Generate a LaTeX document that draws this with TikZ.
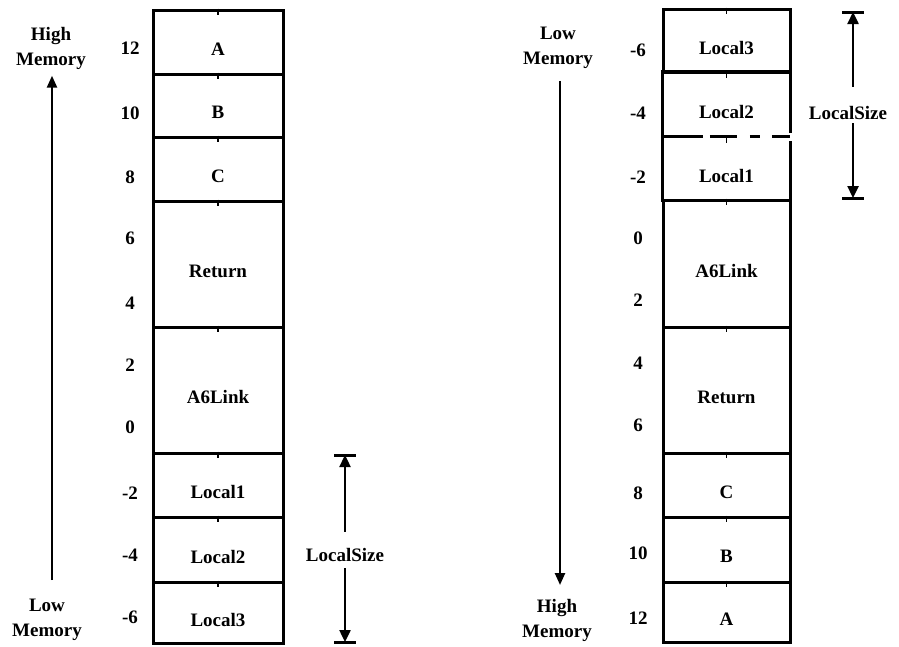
\documentclass[tikz,border=0pt]{standalone}
\usepackage{fontspec}
\setmainfont{Liberation Serif}
\usetikzlibrary{arrows.meta}
\begin{document}
\begin{tikzpicture}[x=1pt,y=-1pt,
  font=\fontsize{19}{25}\selectfont\bfseries,
  cell/.style={draw, line width=3pt, inner sep=0pt},
  lcell/.style={cell, minimum width=130pt},
  rcell/.style={cell, minimum width=127pt},
  ocell/.style={inner sep=0pt, minimum width=127pt},
  wall/.style={line width=3pt},
  lbl/.style={yshift=-7pt},
  tick/.style={line width=1.8pt},
  memtxt/.style={align=center, inner sep=0pt, anchor=north},
  marr/.style={line width=2.4pt, -{Triangle[width=10pt,length=12pt]}},
  dim/.style={line width=2.4pt, -{Triangle[width=11pt,length=12pt]}},
  bar/.style={line width=3pt}]
\useasboundingbox (0,0) rectangle (899,646);

% ---------- left stack ----------
\node[lcell, minimum height=64pt, label={[lbl]center:A}] (lA) at (218,42) {};
\node[lcell, minimum height=63pt, label={[lbl]center:B}] (lB) at (218,105.5) {};
\node[lcell, minimum height=64pt, label={[lbl]center:C}] (lC) at (218,169) {};
\node[lcell, minimum height=126pt, label={[lbl]center:Return}] (lR) at (218,264) {};
\node[lcell, minimum height=126pt, label={[lbl]center:A6Link}] (lL) at (218,390) {};
\node[lcell, minimum height=64pt, label={[lbl]center:Local1}] (l1) at (218,485) {};
\node[lcell, minimum height=65pt, label={[lbl]center:Local2}] (l2) at (218,549.5) {};
\node[lcell, minimum height=61pt, label={[lbl]center:Local3}] (l3) at (218,612.5) {};
\foreach \n in {lA,lB,lC,lR,lL,l1,l2,l3} \draw[tick] (\n.north) -- ++(0,6);

\foreach \v/\y in {12/48,10/113,8/177,6/238,4/303,2/365,0/427,-2/493,-4/555,-6/617}
  \node (ln\y) at (130,\y) {\v};

% left memory arrow
\node[memtxt] (hmL) at (51,27) {High\\Memory};
\node[memtxt] (lmL) at (47,599) {Low\\Memory};
\coordinate (lmb) at (52,580);
\draw[marr] (lmb) -- ([yshift=-6pt]hmL.south -| lmb);

% left LocalSize
\coordinate (lt) at (345,455);
\coordinate (lb) at (345,642);
\node (lsL) at (345,555) {LocalSize};
\draw[dim, shorten <=13pt] (lsL.north) -- (lt);
\draw[dim, shorten <=3pt] (lsL.south) -- (lb);
\draw[bar] ([xshift=-11pt]lt) -- ([xshift=11pt]lt);
\draw[bar] ([xshift=-11pt]lb) -- ([xshift=11pt]lb);

% ---------- right stack ----------
\node[rcell, minimum height=63pt, label={[lbl]center:Local3}] (r3) at (726.5,40.5) {};
\node[ocell, minimum height=65pt, label={[lbl]center:Local2}] (r2) at (726.5,104.5) {};
\node[ocell, minimum height=63pt, label={[lbl]center:Local1}] (r1) at (726.5,168.5) {};
\node[rcell, minimum height=127pt, label={[lbl]center:A6Link}] (rL) at (726.5,263.5) {};
\node[rcell, minimum height=126pt, label={[lbl]center:Return}] (rR) at (726.5,390) {};
\node[rcell, minimum height=64pt, label={[lbl]center:C}] (rC) at (726.5,485) {};
\node[rcell, minimum height=65pt, label={[lbl]center:B}] (rB) at (726.5,549.5) {};
\node[rcell, minimum height=60pt, label={[lbl]center:A}] (rA) at (726.5,612) {};
\draw[wall] (r2.south west) -- (r2.north west) -- (r2.north east) -- ([yshift=4pt]r2.south east);
\draw[wall] (r1.north west) -- (r1.south west) -- (r1.south east) -- ([yshift=-4pt]r1.north east);
\draw[wall, dash pattern=on 40pt off 7pt on 27pt off 13pt on 10pt off 12pt on 18pt]
  (r1.north west) -- (r1.north east);
\foreach \n in {r3,r2,r1,rL,rR,rC,rB,rA} \draw[tick] (\n.north) -- ++(0,6);

\foreach \v/\y in {-6/50,-4/113,-2/177,0/238,2/300,4/363,6/425,8/493,10/553,12/618}
  \node (rn\y) at (638,\y) {\v};

% right memory arrow
\node[memtxt] (lmR) at (558,27) {Low\\Memory};
\node[memtxt] (hmR) at (557,599) {High\\Memory};
\coordinate (rtip) at (560,585);
\draw[marr] ([yshift=-12pt]lmR.south -| rtip) -- (rtip);

% right LocalSize
\coordinate (rt) at (853,12);
\coordinate (rb) at (853,198);
\node (lsR) at (848,113) {LocalSize};
\draw[dim, shorten <=16pt] (lsR.north -| rt) -- (rt);
\draw[dim] (lsR.south -| rb) -- (rb);
\draw[bar] ([xshift=-11pt]rt) -- ([xshift=11pt]rt);
\draw[bar] ([xshift=-11pt]rb) -- ([xshift=11pt]rb);
\end{tikzpicture}
\end{document}
